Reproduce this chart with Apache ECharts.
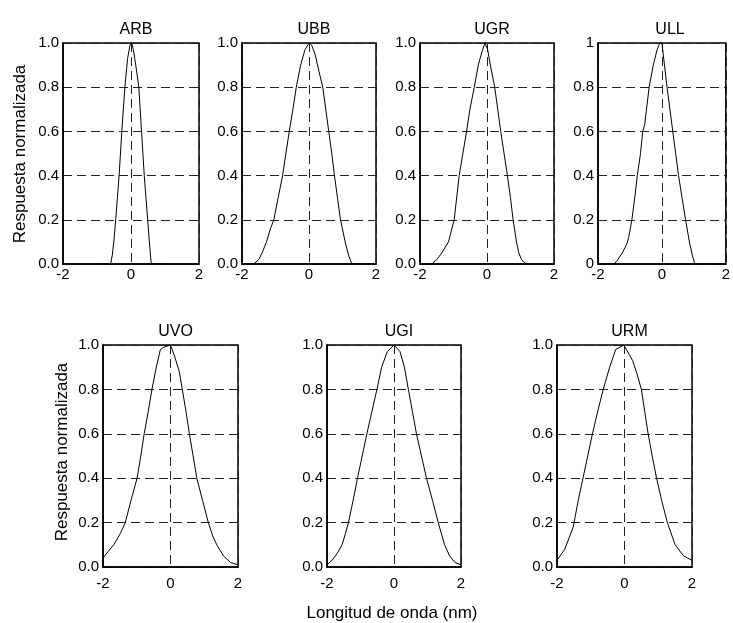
<!DOCTYPE html>
<html><head><meta charset="utf-8">
<script src="https://cdn.jsdelivr.net/npm/echarts@6/dist/echarts.min.js"></script>
<style>html,body{margin:0;padding:0;background:#fff}#c{width:733px;height:623px}</style>
</head><body><div id="c"></div>
<script>
const panelNames = ['ARB','UBB','UGR','ULL','UVO','UGI','URM'];
const xTicks = [-2, 0, 2];
const yTicks = [0, 0.2, 0.4, 0.6, 0.8, 1.0];
const arb = [[-1.0,0],[-0.6,0],[-0.55,0.04],[-0.5,0.11],[-0.45,0.2],[-0.4,0.3],[-0.35,0.4],[-0.27,0.6],[-0.18,0.8],[-0.1,0.93],[-0.03,0.99],[0.02,1.0],[0.07,0.97],[0.14,0.9],[0.23,0.8],[0.31,0.6],[0.39,0.4],[0.44,0.3],[0.49,0.2],[0.54,0.1],[0.59,0.01],[0.62,0],[1.0,0]];
const ubb = [[-2,0],[-1.65,0],[-1.5,0.02],[-1.4,0.05],[-1.27,0.1],[-1.15,0.16],[-1.05,0.2],[-0.92,0.3],[-0.79,0.4],[-0.69,0.5],[-0.59,0.6],[-0.48,0.7],[-0.38,0.8],[-0.25,0.9],[-0.12,0.97],[0,1.0],[0.08,0.99],[0.18,0.95],[0.3,0.87],[0.41,0.8],[0.5,0.7],[0.59,0.6],[0.68,0.5],[0.76,0.4],[0.85,0.3],[0.94,0.2],[1.08,0.1],[1.18,0.04],[1.28,0],[1.83,0]];
const ugr = [[-2,0],[-1.65,0],[-1.5,0.02],[-1.35,0.05],[-1.15,0.1],[-0.98,0.2],[-0.83,0.4],[-0.72,0.5],[-0.61,0.6],[-0.51,0.7],[-0.38,0.8],[-0.26,0.9],[-0.15,0.96],[-0.06,1.0],[0.02,0.97],[0.1,0.9],[0.23,0.8],[0.32,0.7],[0.41,0.6],[0.51,0.5],[0.61,0.4],[0.7,0.3],[0.78,0.2],[0.88,0.1],[0.95,0.05],[1.03,0.02],[1.12,0.005],[1.22,0]];
const ull = [[-2,0],[-1.49,0],[-1.38,0.02],[-1.24,0.05],[-1.1,0.09],[-1.04,0.12],[-0.94,0.2],[-0.85,0.3],[-0.77,0.4],[-0.67,0.5],[-0.6,0.6],[-0.54,0.63],[-0.4,0.8],[-0.27,0.9],[-0.15,0.97],[-0.07,1.0],[0,1.0],[0.08,0.9],[0.16,0.8],[0.25,0.7],[0.34,0.6],[0.43,0.5],[0.52,0.4],[0.63,0.3],[0.74,0.2],[0.86,0.1],[0.95,0.04],[1.03,0],[2,0]];
const uvo = [[-2,0.04],[-1.85,0.07],[-1.68,0.1],[-1.49,0.15],[-1.34,0.2],[-1.17,0.3],[-0.99,0.4],[-0.88,0.5],[-0.78,0.6],[-0.66,0.7],[-0.55,0.8],[-0.42,0.9],[-0.3,0.98],[-0.2,0.99],[0,1.0],[0.12,0.95],[0.26,0.88],[0.35,0.8],[0.46,0.7],[0.56,0.6],[0.67,0.5],[0.78,0.4],[0.95,0.3],[1.12,0.2],[1.25,0.14],[1.37,0.1],[1.57,0.05],[1.78,0.02],[2,0.01]];
const ugi = [[-2,0.01],[-1.85,0.03],[-1.7,0.06],[-1.55,0.1],[-1.45,0.15],[-1.36,0.2],[-1.22,0.3],[-1.09,0.4],[-0.95,0.5],[-0.81,0.6],[-0.66,0.7],[-0.51,0.8],[-0.37,0.9],[-0.2,0.97],[0,1.0],[0.18,0.97],[0.31,0.9],[0.43,0.8],[0.55,0.7],[0.67,0.6],[0.82,0.5],[0.97,0.4],[1.15,0.3],[1.32,0.2],[1.51,0.1],[1.66,0.05],[1.82,0.02],[2,0.01]];
const urm = [[-2,0.03],[-1.77,0.08],[-1.52,0.18],[-1.37,0.3],[-1.23,0.4],[-1.09,0.5],[-0.95,0.6],[-0.78,0.71],[-0.63,0.8],[-0.44,0.9],[-0.26,0.98],[-0.02,1.0],[0.24,0.93],[0.37,0.87],[0.5,0.8],[0.6,0.7],[0.7,0.6],[0.82,0.5],[0.95,0.4],[1.1,0.3],[1.27,0.2],[1.5,0.1],[1.75,0.05],[2,0.03]];
const seriesData = [arb, ubb, ugr, ull, uvo, ugi, urm];
const yLabelText = 'Respuesta normalizada';
const xLabelText = 'Longitud de onda (nm)';

const boxes = [
  [63,43,136,221],[242,43,134,221],[420,43,134,221],[598,43,134,221],
  [103,345,135,222],[327,345,134,222],[557,345,135,222]
];
const FONT = '"Liberation Sans", Arial, sans-serif';
const grids = [], xAxes = [], yAxes = [], series = [], titles = [];
const dashStyle = {color:'#222', type:[9,5], width:1};
boxes.forEach((b, i) => {
  const top = i < 4;
  grids.push({left:b[0], top:b[1], width:b[2], height:b[3], show:true, borderColor:'#000', borderWidth:1.5, backgroundColor:'transparent'});
  xAxes.push({type:'value', gridIndex:i, min:xTicks[0], max:xTicks[2], interval:2,
    axisLine:{show:true, onZero:false, lineStyle:{color:'#000', width:1.5}},
    axisTick:{show:false},
    axisLabel:{color:'#000', fontSize:15, fontFamily:FONT, margin: top ? 3 : 9},
    splitLine:{show:true, lineStyle:dashStyle}});
  yAxes.push({type:'value', gridIndex:i, min:0, max:1, interval:0.2,
    axisLine:{show:true, onZero:false, lineStyle:{color:'#000', width:1.5}},
    axisTick:{show:false},
    axisLabel:{color:'#000', fontSize:15, fontFamily:FONT, margin:4,
      formatter: v => (i === 3 ? (v === 0 ? '0' : (Math.abs(v-1) < 1e-9 ? '1' : v.toFixed(1))) : v.toFixed(1))},
    splitLine:{show:true, lineStyle:dashStyle}});
  series.push({type:'line', xAxisIndex:i, yAxisIndex:i, data:seriesData[i], showSymbol:false, symbol:'none',
    lineStyle:{color:'#000', width:1}, silent:true, animation:false});
  titles.push({text:panelNames[i], left:b[0]+b[2]/2, top:b[1]-26, textAlign:'center',
    textStyle:{fontSize:16, fontWeight:'normal', color:'#000', fontFamily:FONT}});
});

const chart = echarts.init(document.getElementById('c'), null, {renderer:'canvas'});
chart.setOption({
  animation:false,
  backgroundColor:'#fff',
  title: titles,
  grid: grids, xAxis: xAxes, yAxis: yAxes, series: series,
  graphic: [
    {type:'text', x:20, y:154, rotation:Math.PI/2, style:{text:yLabelText, fill:'#000', font:'17px '+FONT, textAlign:'center', textVerticalAlign:'middle'}},
    {type:'text', x:62, y:452, rotation:Math.PI/2, style:{text:yLabelText, fill:'#000', font:'17px '+FONT, textAlign:'center', textVerticalAlign:'middle'}},
    {type:'text', x:392, y:613, style:{text:xLabelText, fill:'#000', font:'17px '+FONT, textAlign:'center', textVerticalAlign:'middle'}}
  ]
});
</script></body></html>
